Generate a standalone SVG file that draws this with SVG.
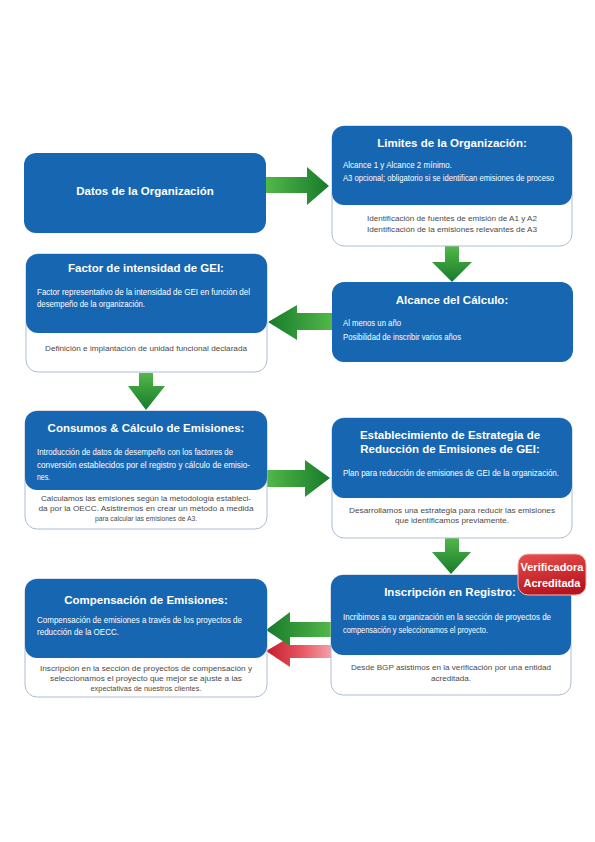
<svg xmlns="http://www.w3.org/2000/svg" width="595" height="842" viewBox="0 0 595 842">
<defs>
<style>
.bg{fill:#ffffff}
.outer{fill:#ffffff;stroke:#aebdd2;stroke-width:1}
.blue{fill:#1766b2}
.t{font-family:"Liberation Sans",Arial,sans-serif;font-weight:bold;font-size:11.5px;fill:#ffffff;text-anchor:middle}
.b{font-family:"Liberation Sans",Arial,sans-serif;font-size:9px;fill:#ffffff}
.g{font-family:"Liberation Sans",Arial,sans-serif;font-size:8px;fill:#4a4a4a;text-anchor:middle}
.v{font-family:"Liberation Sans",Arial,sans-serif;font-weight:bold;font-size:11px;fill:#ffffff;text-anchor:middle}
</style>
<linearGradient id="gR" x1="0" y1="0" x2="1" y2="0"><stop offset="0" stop-color="#52b848"/><stop offset="1" stop-color="#177a2c"/></linearGradient>
<linearGradient id="gL" x1="1" y1="0" x2="0" y2="0"><stop offset="0" stop-color="#52b848"/><stop offset="1" stop-color="#177a2c"/></linearGradient>
<linearGradient id="gD" x1="0" y1="0" x2="0" y2="1"><stop offset="0" stop-color="#52b848"/><stop offset="1" stop-color="#177a2c"/></linearGradient>
<linearGradient id="rL" x1="1" y1="0" x2="0" y2="0"><stop offset="0" stop-color="#f4a0a8"/><stop offset="0.5" stop-color="#e4505c"/><stop offset="1" stop-color="#c41e2c"/></linearGradient>
<linearGradient id="badge" x1="0" y1="0" x2="0.3" y2="1"><stop offset="0" stop-color="#e8504c"/><stop offset="1" stop-color="#b8161e"/></linearGradient>
</defs>
<rect class="bg" x="0" y="0" width="595" height="842"/>

<g id="connectors">
<path d="M266,177 H307 V167 L329,186 L307,205 V193 H266 Z" fill="url(#gR)"/>
<path d="M445,246 V262 H432 L452,282 L472,262 H459 V246 Z" fill="url(#gD)"/>
<path d="M332,313 H297 V305 L268,322 L297,340 V330 H332 Z" fill="url(#gL)"/>
<path d="M139,373 V386 H128 L146,410 L165,386 H153 V373 Z" fill="url(#gD)"/>
<path d="M267,470 H305 V460 L330,478 L305,497 V487 H267 Z" fill="url(#gR)"/>
<path d="M445,538 V552 H432 L451,574 L471,552 H459 V538 Z" fill="url(#gD)"/>
<path d="M331,645 H290 V637 L266,651 L290,667 V658 H331 Z" fill="url(#rL)"/>
<path d="M331,622 H290 V612 L266,630 L290,646 V637 H331 Z" fill="url(#gL)"/>
</g>

<g id="n-datos">
<rect class="blue" x="24" y="153" width="242" height="80" rx="12"/>
<text class="t" x="145" y="195">Datos de la Organización</text>
</g>

<g id="n-limites">
<rect class="outer" x="332" y="126" width="240" height="120" rx="12"/>
<rect class="blue" x="332" y="126" width="240" height="79" rx="12"/>
<text class="t" x="452" y="147">Limites de la Organización:</text>
<text class="b" x="343" y="168" textLength="109" lengthAdjust="spacingAndGlyphs">Alcance 1 y Alcance 2 mínimo.</text>
<text class="b" x="343" y="181" textLength="211" lengthAdjust="spacingAndGlyphs">A3 opcional; obligatorio si se identifican emisiones de proceso</text>
<text class="g" x="452" y="221" textLength="170" lengthAdjust="spacingAndGlyphs">Identificación de fuentes de emisión de A1 y A2</text>
<text class="g" x="452" y="232" textLength="170" lengthAdjust="spacingAndGlyphs">Identificación de la emisiones relevantes de A3</text>
</g>

<g id="n-factor">
<rect class="outer" x="26" y="254" width="241" height="118" rx="12"/>
<rect class="blue" x="26" y="254" width="241" height="79" rx="12"/>
<text class="t" x="146" y="272">Factor de intensidad de GEI:</text>
<text class="b" x="37" y="295" textLength="213" lengthAdjust="spacingAndGlyphs">Factor representativo de la intensidad de GEI en función del</text>
<text class="b" x="37" y="307" textLength="108" lengthAdjust="spacingAndGlyphs">desempeño de la organización.</text>
<text class="g" x="146" y="351" textLength="202" lengthAdjust="spacingAndGlyphs">Definición e implantación de unidad funcional declarada</text>
</g>

<g id="n-alcance">
<rect class="blue" x="332" y="282" width="241" height="80" rx="12"/>
<text class="t" x="452" y="304">Alcance del Cálculo:</text>
<text class="b" x="343" y="326" textLength="58" lengthAdjust="spacingAndGlyphs">Al menos un año</text>
<text class="b" x="343" y="340" textLength="118" lengthAdjust="spacingAndGlyphs">Posibilidad de inscribir varios años</text>
</g>

<g id="n-consumos">
<rect class="outer" x="25" y="411" width="242" height="118" rx="12"/>
<rect class="blue" x="25" y="411" width="242" height="79" rx="12"/>
<text class="t" x="146" y="432">Consumos &amp; Cálculo de Emisiones:</text>
<text class="b" x="37" y="455" textLength="196" lengthAdjust="spacingAndGlyphs">Introducción de datos de desempeño con los factores de</text>
<text class="b" x="37" y="468" textLength="213" lengthAdjust="spacingAndGlyphs">conversión establecidos por el registro y cálculo de emisio-</text>
<text class="b" x="37" y="480" textLength="13" lengthAdjust="spacingAndGlyphs">nes.</text>
<text class="g" x="146" y="501" textLength="210" lengthAdjust="spacingAndGlyphs">Calculamos las emisiones según la metodología estableci-</text>
<text class="g" x="146" y="511" textLength="215" lengthAdjust="spacingAndGlyphs">da por la OECC. Asistiremos en crear un método a medida</text>
<text class="g" x="146" y="521" textLength="102" lengthAdjust="spacingAndGlyphs">para calcular las emisiones de A3.</text>
</g>

<g id="n-estrategia">
<rect class="outer" x="332" y="418" width="240" height="120" rx="12"/>
<rect class="blue" x="332" y="418" width="240" height="80" rx="12"/>
<text class="t" x="450" y="439">Establecimiento de Estrategia de</text>
<text class="t" x="450" y="453">Reducción de Emisiones de GEI:</text>
<text class="b" x="343" y="476" textLength="216" lengthAdjust="spacingAndGlyphs">Plan para reducción de emisiones de GEI de la organización.</text>
<text class="g" x="452" y="513" textLength="206" lengthAdjust="spacingAndGlyphs">Desarrollamos una estrategia para reducir las emisiones</text>
<text class="g" x="452" y="523" textLength="114" lengthAdjust="spacingAndGlyphs">que identificamos previamente.</text>
</g>

<g id="n-inscripcion">
<rect class="outer" x="331" y="575" width="240" height="120" rx="12"/>
<rect class="blue" x="331" y="575" width="240" height="80" rx="12"/>
<text class="t" x="450" y="596">Inscripción en Registro:</text>
<text class="b" x="343" y="620" textLength="208" lengthAdjust="spacingAndGlyphs">Incribimos a su organización en la sección de proyectos de</text>
<text class="b" x="343" y="633" textLength="145" lengthAdjust="spacingAndGlyphs">compensación y seleccionamos el proyecto.</text>
<text class="g" x="451" y="670" textLength="200" lengthAdjust="spacingAndGlyphs">Desde BGP asistimos en la verificación por una entidad</text>
<text class="g" x="451" y="681" textLength="40" lengthAdjust="spacingAndGlyphs">acreditada.</text>
</g>

<g id="n-verificadora">
<rect x="518" y="554" width="68" height="41" rx="10" fill="url(#badge)" stroke="#f3b5b5" stroke-width="1"/>
<text class="v" x="552" y="571">Verificadora</text>
<text class="v" x="552" y="587">Acreditada</text>
</g>

<g id="n-compensacion">
<rect class="outer" x="25" y="579" width="242" height="118" rx="12"/>
<rect class="blue" x="25" y="579" width="242" height="79" rx="12"/>
<text class="t" x="146" y="604">Compensación de Emisiones:</text>
<text class="b" x="37" y="623" textLength="205" lengthAdjust="spacingAndGlyphs">Compensación de emisiones a través de los proyectos de</text>
<text class="b" x="37" y="635" textLength="82" lengthAdjust="spacingAndGlyphs">reducción de la OECC.</text>
<text class="g" x="146" y="671" textLength="212" lengthAdjust="spacingAndGlyphs">Inscripción en la sección de proyectos de compensación y</text>
<text class="g" x="146" y="681" textLength="192" lengthAdjust="spacingAndGlyphs">seleccionamos el proyecto que mejor se ajuste a las</text>
<text class="g" x="146" y="691" textLength="111" lengthAdjust="spacingAndGlyphs">expectativas de nuestros clientes.</text>
</g>
</svg>
